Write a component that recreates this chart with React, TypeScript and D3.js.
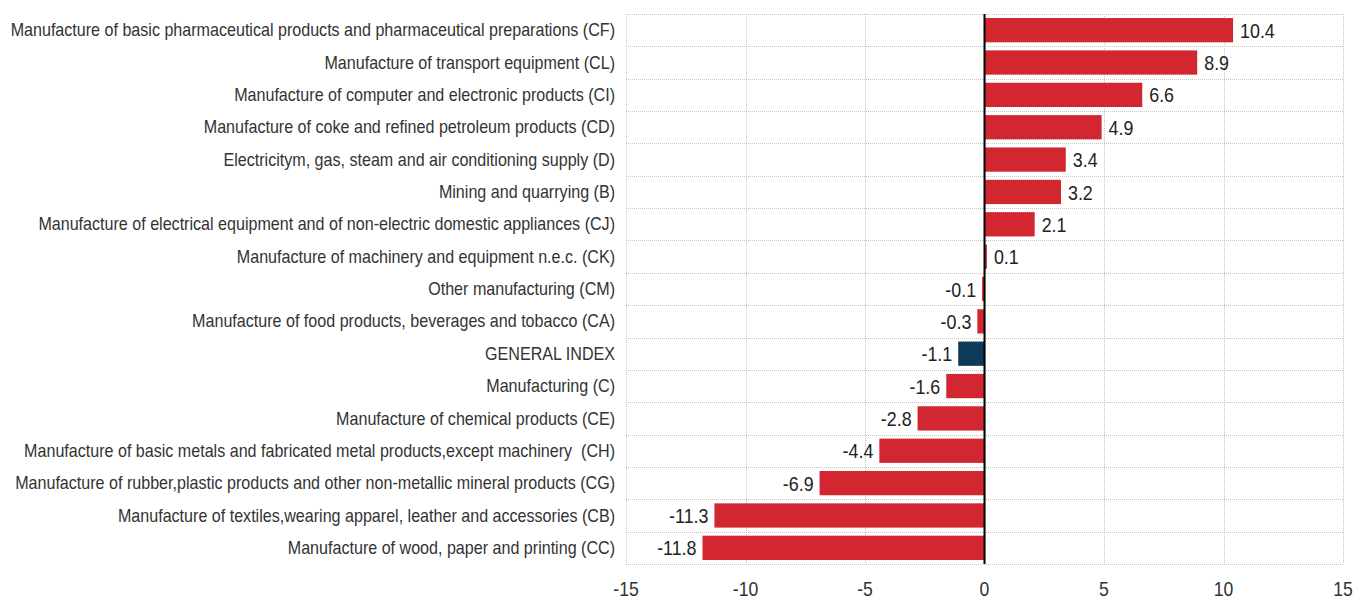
import { useEffect, useRef } from "react";
import * as d3 from "d3";

const categories = [
  "Manufacture of basic pharmaceutical products and pharmaceutical preparations (CF)",
  "Manufacture of transport equipment (CL)",
  "Manufacture of computer and electronic products (CI)",
  "Manufacture of coke and refined petroleum products (CD)",
  "Electricitym, gas, steam and air conditioning supply (D)",
  "Mining and quarrying (B)",
  "Manufacture of electrical equipment and of non-electric domestic appliances (CJ)",
  "Manufacture of machinery and equipment n.e.c. (CK)",
  "Other manufacturing (CM)",
  "Manufacture of food products, beverages and tobacco (CA)",
  "GENERAL INDEX",
  "Manufacturing (C)",
  "Manufacture of chemical products (CE)",
  "Manufacture of basic metals and fabricated metal products,except machinery  (CH)",
  "Manufacture of rubber,plastic products and other non-metallic mineral products (CG)",
  "Manufacture of textiles,wearing apparel, leather and accessories (CB)",
  "Manufacture of wood, paper and printing (CC)",
];
const values = [10.4, 8.9, 6.6, 4.9, 3.4, 3.2, 2.1, 0.1, -0.1, -0.3, -1.1, -1.6, -2.8, -4.4, -6.9, -11.3, -11.8];
const xTicks = [-15, -10, -5, 0, 5, 10, 15];

// no narrow font installed, so Liberation Sans gets squeezed horizontally
const FONT = "'Liberation Sans', Arial, sans-serif";

const App = () => {
  const svgRef = useRef<SVGSVGElement>(null);

  useEffect(() => {
    const w = 1359;
    const h = 599;
    const m = { top: 14, right: 16, bottom: 35, left: 626 };
    const svg = d3.select(svgRef.current).attr("width", w).attr("height", h);
    svg.selectAll("*").remove();

    const x = d3.scaleLinear().domain([-15, 15]).range([m.left, w - m.right]);
    const y = d3
      .scaleBand<string>()
      .domain(categories)
      .range([m.top, h - m.bottom])
      .paddingInner(0.25)
      .paddingOuter(0.125);
    const step = y.step();

    const grid = svg.append("g").attr("stroke", "#c4c4c4").attr("stroke-width", 1).attr("stroke-dasharray", "1,1");
    grid
      .selectAll("line.v")
      .data(xTicks)
      .join("line")
      .attr("x1", (d) => Math.round(x(d)) + 0.5)
      .attr("x2", (d) => Math.round(x(d)) + 0.5)
      .attr("y1", m.top)
      .attr("y2", h - m.bottom);
    grid
      .selectAll("line.h")
      .data(d3.range(categories.length + 1))
      .join("line")
      .attr("x1", m.left)
      .attr("x2", w - m.right)
      .attr("y1", (i) => Math.round(m.top + i * step) + 0.5)
      .attr("y2", (i) => Math.round(m.top + i * step) + 0.5);

    svg
      .append("g")
      .selectAll("rect")
      .data(values)
      .join("rect")
      .attr("x", (d) => x(Math.min(0, d)))
      .attr("width", (d) => Math.abs(x(d) - x(0)))
      .attr("y", (d, i) => y(categories[i])!)
      .attr("height", y.bandwidth())
      .attr("fill", (d, i) => (categories[i] === "GENERAL INDEX" ? "#0f3a5a" : "#d22630"));

    svg
      .append("line")
      .attr("x1", x(0))
      .attr("x2", x(0))
      .attr("y1", m.top)
      .attr("y2", h - m.bottom)
      .attr("stroke", "#000")
      .attr("stroke-width", 2);

    const valSx = 0.85;
    svg
      .append("g")
      .selectAll("text")
      .data(values)
      .join("text")
      .attr("transform", (d, i) => {
        const tx = d >= 0 ? x(d) + 7 : x(d) - 6;
        const ty = y(categories[i])! + y.bandwidth() / 2;
        return `translate(${tx},${ty}) scale(${valSx},1)`;
      })
      .attr("dy", "0.36em")
      .attr("text-anchor", (d) => (d >= 0 ? "start" : "end"))
      .attr("font-family", FONT)
      .attr("font-size", 21)
      .attr("fill", "#222")
      .text((d) => d.toFixed(1));

    const labels = svg
      .append("g")
      .selectAll("text")
      .data(categories)
      .join("text")
      .attr("dy", "0.35em")
      .attr("text-anchor", "end")
      .attr("font-family", FONT)
      .attr("font-size", 17.5)
      .attr("fill", "#333")
      .style("white-space", "pre")
      .text((d) => d);

    // squeeze so the longest label starts at x = 10
    const labelX = m.left - 11;
    const longest = d3.max(labels.nodes(), (n) => (n as SVGTextElement).getComputedTextLength()) || 1;
    const sx = Math.min(1, (labelX - 10) / longest);
    labels.attr("transform", (d) => `translate(${labelX},${y(d)! + y.bandwidth() / 2}) scale(${sx},1)`);

    const xAxis = d3
      .axisBottom(x)
      .tickValues(xTicks)
      .tickSize(0)
      .tickPadding(18)
      .tickFormat((d) => String(d));
    const gx = svg.append("g").attr("transform", `translate(0,${h - m.bottom})`).call(xAxis);
    gx.select(".domain").remove();
    gx.selectAll("text")
      .attr("font-family", FONT)
      .attr("font-size", 20)
      .attr("fill", "#333")
      .attr("transform", function () {
        return "";
      });
    gx.selectAll<SVGGElement, number>(".tick").attr("transform", (d) => `translate(${x(d)},0) scale(0.88,1)`);
  }, []);

  return <svg ref={svgRef} style={{ position: "absolute", top: 0, left: 0, display: "block" }}></svg>;
};

export default App;
